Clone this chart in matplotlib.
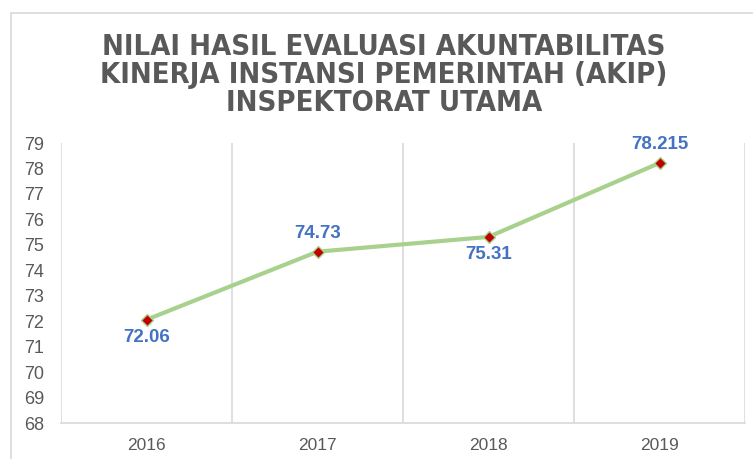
import matplotlib
matplotlib.use("Agg")
import matplotlib.pyplot as plt
from matplotlib.patches import Rectangle
from matplotlib import font_manager as fm

years = ["2016", "2017", "2018", "2019"]
values = [72.06, 74.73, 75.31, 78.215]
labels = ["72.06", "74.73", "75.31", "78.215"]
label_pos = ["below", "above", "below", "above"]
yticks = list(range(68, 80))
title_lines = ["NILAI HASIL EVALUASI AKUNTABILITAS",
               "KINERJA INSTANSI PEMERINTAH (AKIP)",
               "INSPEKTORAT UTAMA"]


def _w(v):
    if isinstance(v, (int, float)):
        return v
    return {"bold": 700, "heavy": 800, "black": 900, "semibold": 600,
            "demibold": 600, "extra bold": 800}.get(str(v).lower(), 400)


# pick a narrow/condensed bold face if one is installed
title_fp = None
for f in fm.fontManager.ttflist:
    n = (f.name + " " + str(f.stretch)).lower()
    if ("narrow" in n or "condensed" in n) and 600 <= _w(f.weight) <= 800 \
            and f.style == "normal":
        title_fp = fm.FontProperties(fname=f.fname)
        break
if title_fp is None:
    title_fp = fm.FontProperties(family="Liberation Sans", weight="bold")

W, H = 753, 459
fig = plt.figure(figsize=(W / 100, H / 100), dpi=100)
fig.patch.set_facecolor("white")

fig.add_artist(Rectangle((11 / W, -0.1), 1.2, (H - 13) / H + 0.1,
                         transform=fig.transFigure, fill=False,
                         edgecolor="#D9D9D9", linewidth=1.2))

ax = fig.add_axes([61 / W, (H - 423) / H, (745 - 61) / W, (423 - 143) / H])
x = list(range(len(years)))
ax.plot(x, values, color="#A9D18E", linewidth=3, zorder=3,
        marker="D", markersize=6, markerfacecolor="#C00000",
        markeredgecolor="#A9D18E", markeredgewidth=1)

for xi, v, lab, pos in zip(x, values, labels, label_pos):
    off = 13 if pos == "above" else -13
    ax.annotate(lab, (xi, v), xytext=(0, off), textcoords="offset points",
                ha="center", va="center", fontsize=13.5, fontweight="bold",
                color="#4472C4", family="Liberation Sans")

ax.set_xlim(-0.5, len(years) - 0.5)
ax.set_ylim(68, 79)
ax.set_yticks(yticks)
ax.set_yticklabels([str(t) for t in yticks], fontsize=13, color="#595959",
                   family="Liberation Sans")
ax.set_xticks(x)
ax.set_xticklabels(years, fontsize=12.5, color="#595959", family="Liberation Sans")
ax.tick_params(axis="both", length=0)
ax.tick_params(axis="y", pad=12)
ax.tick_params(axis="x", pad=11)
for b in [i - 0.5 for i in range(len(years) + 1)]:
    ax.axvline(b, color="#D9D9D9", linewidth=1.2, zorder=1)
for s in ["top", "right", "left"]:
    ax.spines[s].set_visible(False)
ax.spines["bottom"].set_color("#D9D9D9")
ax.spines["bottom"].set_linewidth(1.2)

texts = []
for i, line in enumerate(title_lines):
    t = fig.text(384 / W, 1 - (47 + 28 * i) / H, line, ha="center", va="center",
                 fontproperties=title_fp, fontsize=20, color="#595959")
    texts.append(t)

# fit title width to about 567 px for the first line
fig.canvas.draw()
r = fig.canvas.get_renderer()
w = texts[0].get_window_extent(r).width
size = min(21, 20 * 567 / w)
for t in texts:
    t.set_fontsize(size)

fig.savefig("out.png", dpi=100)
